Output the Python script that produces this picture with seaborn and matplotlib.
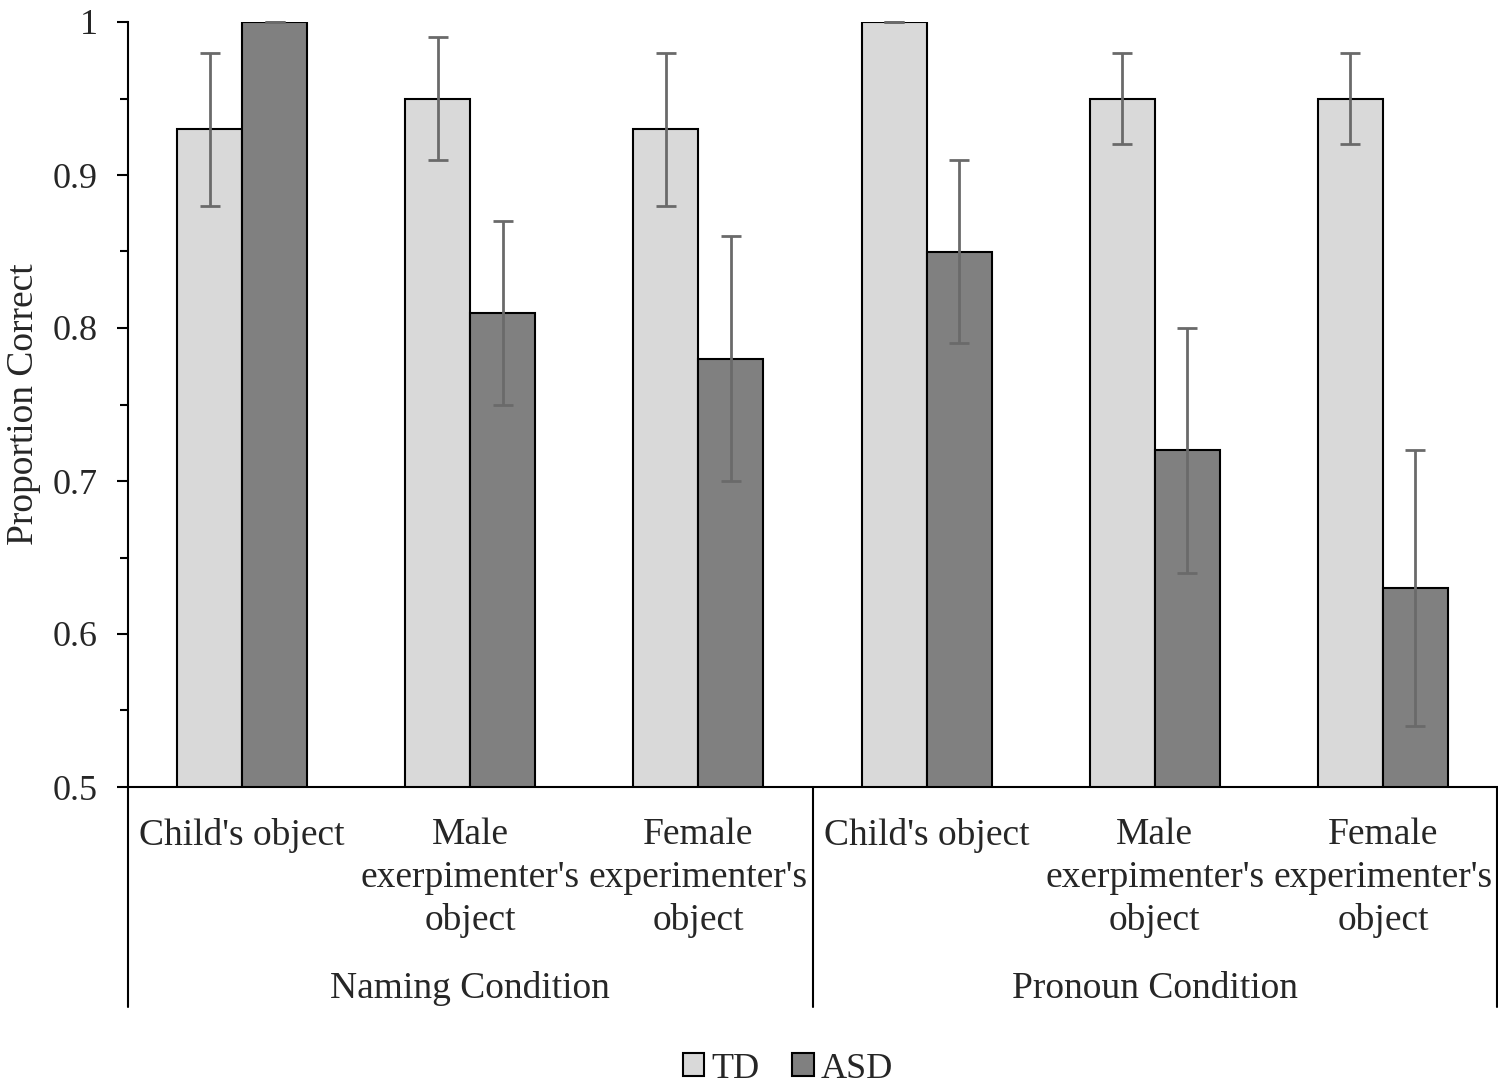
import pandas as pd
import seaborn as sns
import matplotlib.pyplot as plt
from matplotlib.ticker import MultipleLocator
from matplotlib.patches import Patch
from matplotlib.transforms import blended_transform_factory

conditions = ["Naming Condition", "Pronoun Condition"]
objects = ["Child's object", "Male\nexerpimenter's\nobject", "Female\nexperimenter's\nobject"]
groups = ["TD", "ASD"]

td_mean = [0.93, 0.95, 0.93, 1.00, 0.95, 0.95]
td_err = [0.05, 0.04, 0.05, 0.00, 0.03, 0.03]
asd_mean = [1.00, 0.81, 0.78, 0.85, 0.72, 0.63]
asd_err = [0.00, 0.06, 0.08, 0.06, 0.08, 0.09]

colors = {"TD": "#d9d9d9", "ASD": "#808080"}

items = [f"{c}|{o}" for c in conditions for o in objects]
rows = []
for i, item in enumerate(items):
    rows.append({"item": item, "group": "TD", "value": td_mean[i], "err": td_err[i]})
    rows.append({"item": item, "group": "ASD", "value": asd_mean[i], "err": asd_err[i]})
df = pd.DataFrame(rows)

sns.set_style("ticks")
plt.rcParams['font.family'] = ['Liberation Serif', 'DejaVu Serif']

fig = plt.figure(figsize=(14.98, 10.91), dpi=100)
ax = fig.add_axes([128 / 1498, 1 - 787 / 1091, 1369 / 1498, 765 / 1091])

sns.barplot(data=df, x="item", y="value", hue="group", order=items, hue_order=groups,
            palette=colors, edgecolor="black", linewidth=1.5, width=0.57,
            errorbar=None, legend=False, ax=ax)

# error bars on top of each bar
errs = {"TD": td_err, "ASD": asd_err}
for cont, g in zip(ax.containers, groups):
    xs = [b.get_x() + b.get_width() / 2 for b in cont]
    hs = [b.get_height() for b in cont]
    ax.errorbar(xs, hs, yerr=errs[g], fmt="none", ecolor="#6a6a6a",
                elinewidth=2, capsize=7, capthick=2, clip_on=False, zorder=5)

ax.set_xlim(-0.5, 5.5)
ax.set_ylim(0.5, 1.0)
ax.yaxis.set_major_locator(MultipleLocator(0.1))
ax.yaxis.set_minor_locator(MultipleLocator(0.05))
ax.set_yticks([0.5, 0.6, 0.7, 0.8, 0.9, 1.0])
ax.set_yticklabels(["0.5", "0.6", "0.7", "0.8", "0.9", "1"], fontsize=26)
ax.tick_params(axis="y", which="major", length=8, width=1.5, pad=14, color="black")
ax.tick_params(axis="y", which="minor", length=6, width=1.5, color="black")

ax.set_xticks(range(6))
ax.set_xticklabels(objects * 2, fontsize=27, linespacing=1.3)
ax.tick_params(axis="x", length=0, pad=22)

ax.set_xlabel("")
ax.set_ylabel("Proportion Correct", fontsize=27, labelpad=8)

sns.despine(ax=ax)
for s in ["left", "bottom"]:
    ax.spines[s].set_linewidth(1.5)
    ax.spines[s].set_color("black")

trans = blended_transform_factory(ax.transData, ax.transAxes)
for x in [-0.5, 2.5, 5.5]:
    ax.plot([x, x], [0, -0.2876], transform=trans, color="black", lw=1.5, clip_on=False)
for k, c in enumerate(conditions):
    ax.text(1 + 3 * k, -0.264, c, transform=trans, ha="center", va="center", fontsize=27)

handles = [Patch(facecolor=colors[g], edgecolor="black", linewidth=1.5, label=g) for g in groups]
fig.legend(handles=handles, loc="center", bbox_to_anchor=(788 / 1498, 0.02), ncol=2,
           frameon=False, fontsize=26, handlelength=0.6, handleheight=0.6,
           handletextpad=0.2, columnspacing=0.9)

fig.savefig("out.png", dpi=100)
